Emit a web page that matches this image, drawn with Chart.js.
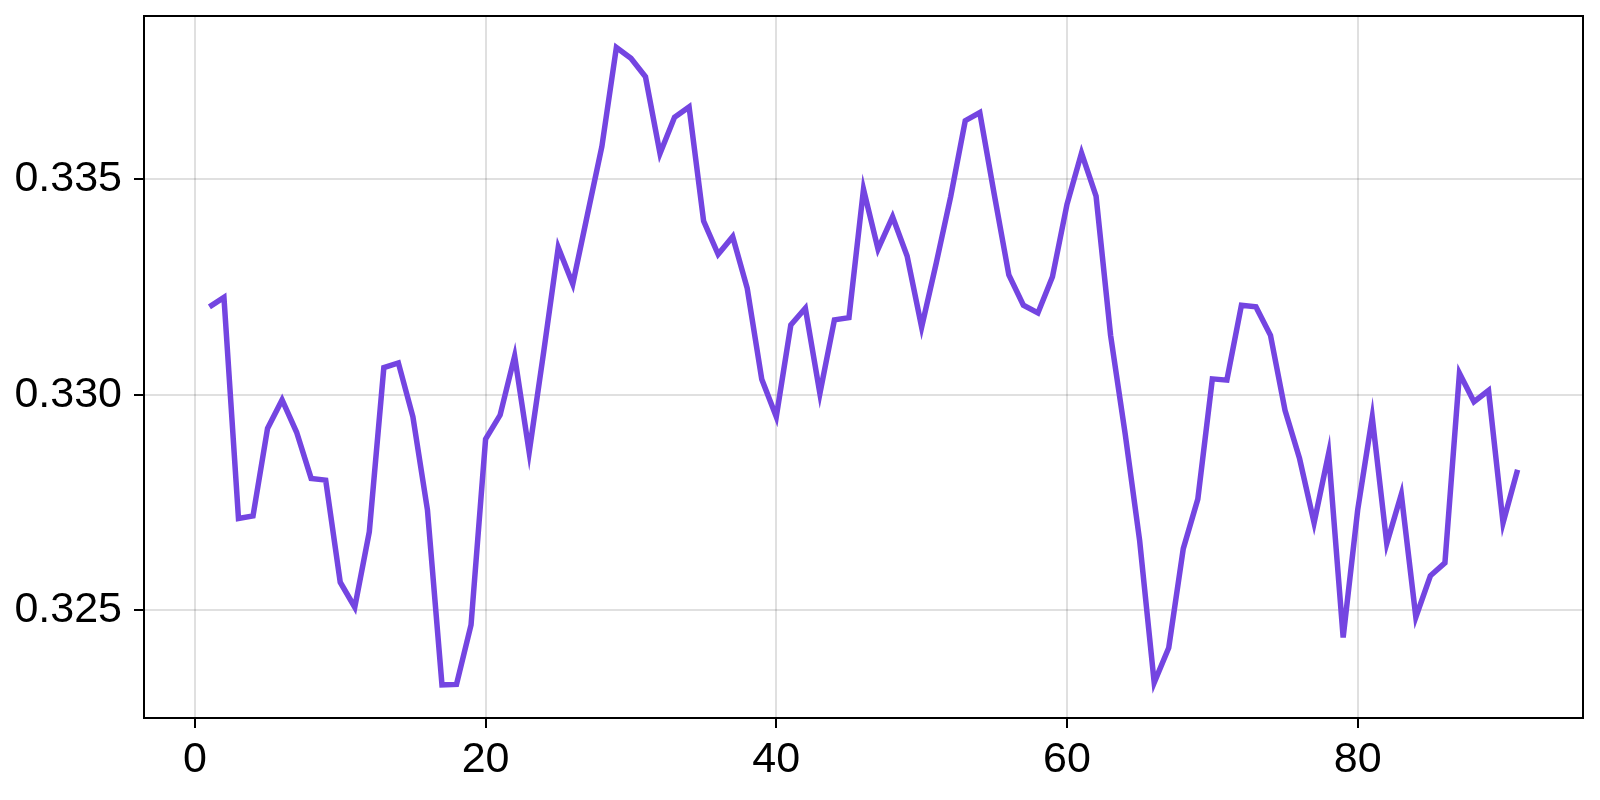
<!DOCTYPE html>
<html>
<head>
<meta charset="utf-8">
<script src="https://cdn.jsdelivr.net/npm/chart.js@4"></script>
<style>
  html, body { margin: 0; padding: 0; background: #fff; }
  #chart_1 { display: block; }
</style>
</head>
<body>
<canvas id="chart_1" width="1600" height="800"></canvas>
<script>
// values, one per step (steps 1..91)
const values = [
    0.33204, 0.33226, 0.32713, 0.32719, 0.32922, 0.32988, 0.32913, 0.32806, 0.32802, 0.32565,
    0.32507, 0.32682, 0.33063, 0.33074, 0.32949, 0.32733, 0.32327, 0.32328, 0.32466, 0.32897,
    0.32953, 0.33090, 0.32867, 0.33100, 0.33342, 0.33257, 0.33417, 0.33576, 0.33806, 0.33781,
    0.33738, 0.33560, 0.33644, 0.33668, 0.33403, 0.33326, 0.33367, 0.33247, 0.33036, 0.32949,
    0.33162, 0.33201, 0.33003, 0.33174, 0.33179, 0.33477, 0.33338, 0.33413, 0.33322, 0.33157,
    0.33305, 0.33460, 0.33636, 0.33655, 0.33464, 0.33278, 0.33208, 0.33190, 0.33274, 0.33442,
    0.33561, 0.33461, 0.33138, 0.32910, 0.32661, 0.32332, 0.32413, 0.32643, 0.32758, 0.33037,
    0.33034, 0.33208, 0.33204, 0.33138, 0.32964, 0.32852, 0.32703, 0.32864, 0.32437, 0.32733,
    0.32948, 0.32655, 0.32769, 0.32484, 0.32580, 0.32610, 0.33050, 0.32984, 0.33010, 0.32703,
    0.32826
];
const steps = values.map((v, i) => i + 1);

const xTicks = [0, 20, 40, 60, 80];
const yTicks = [0.325, 0.330, 0.335];

const lineColor = 'rgb(116, 69, 225)';
const gridColor = 'rgba(0, 0, 0, 0.12)';
const tickFont = { family: "'Liberation Sans', 'DejaVu Sans', sans-serif", size: 43 };

// full box round the plot area (chart.js only draws left/bottom)
const frame = {
    id: 'frame',
    beforeDatasetsDraw(chart) {
        const { ctx, chartArea: a } = chart;
        ctx.save();
        ctx.strokeStyle = '#000';
        ctx.lineWidth = 2;
        ctx.strokeRect(a.left, a.top, a.right - a.left, a.bottom - a.top);
        ctx.restore();
    }
};

let chart = new Chart('chart_1', {
    type: 'line',
    data: {
        datasets: [{
            data: steps.map((s, i) => ({ x: s, y: values[i] })),
            borderColor: lineColor,
            borderWidth: 5.5,
            borderJoinStyle: 'miter',
            pointRadius: 0,
            tension: 0,
            fill: false
        }]
    },
    options: {
        responsive: false,
        animation: false,
        devicePixelRatio: 1,
        layout: { padding: { top: 16, right: 17, left: 0, bottom: 0 } },
        plugins: {
            legend: { display: false },
            tooltip: { enabled: false }
        },
        scales: {
            x: {
                type: 'linear',
                min: -3.5,
                max: 95.5,
                afterBuildTicks: (scale) => { scale.ticks = xTicks.map(v => ({ value: v })); },
                afterFit: (scale) => {
                    scale.height = 82;
                    scale.paddingLeft = 0;
                    scale.paddingRight = 0;
                },
                border: { display: false },
                grid: { color: gridColor, lineWidth: 2, tickColor: '#000', tickLength: 10, tickWidth: 2 },
                ticks: {
                    color: '#000',
                    font: tickFont,
                    padding: 6,
                    maxRotation: 0,
                    callback: (v) => String(v)
                }
            },
            y: {
                min: 0.3225,
                max: 0.33879,
                afterBuildTicks: (scale) => { scale.ticks = yTicks.map(v => ({ value: v })); },
                afterFit: (scale) => {
                    scale.width = 144;
                    scale.paddingTop = 0;
                    scale.paddingBottom = 0;
                },
                border: { display: false },
                grid: { color: gridColor, lineWidth: 2, tickColor: '#000', tickLength: 10, tickWidth: 2 },
                ticks: {
                    color: '#000',
                    font: tickFont,
                    padding: 12,
                    callback: (v) => v.toFixed(3)
                }
            }
        }
    },
    plugins: [frame]
});
</script>
</body>
</html>
